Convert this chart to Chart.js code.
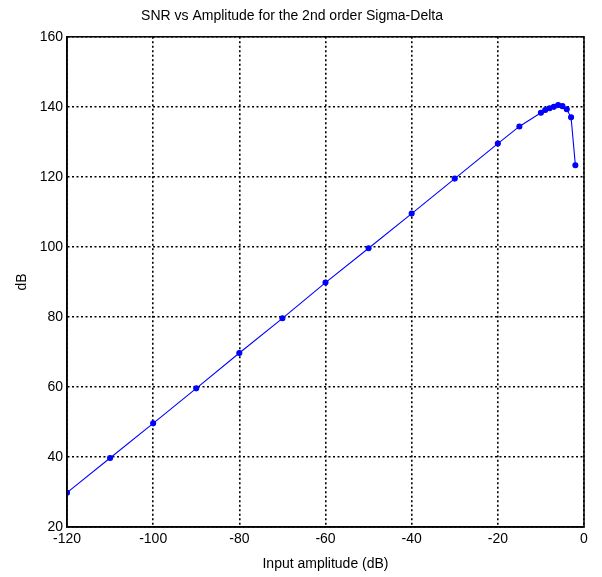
<!DOCTYPE html>
<html>
<head>
<meta charset="utf-8">
<script src="https://cdn.jsdelivr.net/npm/chart.js@4/dist/chart.umd.min.js"></script>
<style>
  html, body { margin: 0; padding: 0; background: #fff; }
  #wrap { width: 602px; height: 577px; }
</style>
</head>
<body>
<div id="wrap"><canvas id="snrChart"></canvas></div>
<script>
// Dados
const amplitudes = [-120, -110, -100, -90, -80, -70, -60, -50, -40, -30, -20, -15, -10, -9, -8, -7, -6, -5, -4, -3, -2];
const snrValues = [29.8, 39.7, 49.6, 59.6, 69.7, 79.6, 89.8, 99.6, 109.5, 119.5, 129.5, 134.4, 138.3, 139.1, 139.6, 140.0, 140.5, 140.2, 139.3, 137.0, 123.3];
const xTicks = [-120, -100, -80, -60, -40, -20, 0];
const yTicks = [20, 40, 60, 80, 100, 120, 140, 160];

const fonte = "'Liberation Sans', Arial, sans-serif";

// Moldura preta em volta da área do gráfico
const moldura = {
    id: 'moldura',
    afterDraw(chart) {
        const a = chart.chartArea;
        const ctx = chart.ctx;
        ctx.save();
        ctx.strokeStyle = '#000';
        ctx.lineWidth = 1.5;
        ctx.setLineDash([]);
        ctx.strokeRect(a.left, a.top, a.right - a.left, a.bottom - a.top);
        ctx.restore();
    }
};

const gradeConfig = {
    color: '#000',
    lineWidth: 1.6,
    drawTicks: false
};

// Grade pontilhada (no v4 o tracejado fica em border.dash)
const bordaConfig = { display: true, color: '#000', width: 1.5, dash: [2, 2.5] };

new Chart(document.getElementById('snrChart'), {
    type: 'scatter',
    data: {
        datasets: [{
            label: 'SNR',
            data: amplitudes.map((a, i) => ({ x: a, y: snrValues[i] })),
            showLine: true,
            borderColor: '#0000ff',
            backgroundColor: '#0000ff',
            borderWidth: 1.1,
            pointRadius: 2.5,
            pointHoverRadius: 2.5
        }]
    },
    options: {
        responsive: true,
        maintainAspectRatio: false,
        animation: false,
        layout: { padding: { left: 0, right: 18, top: 0, bottom: 0 } },
        plugins: {
            legend: { display: false },
            tooltip: { enabled: false },
            title: {
                display: true,
                text: 'SNR vs Amplitude for the 2nd order Sigma-Delta',
                color: '#000',
                font: { family: fonte, size: 14, weight: 'normal' },
                padding: { top: 8, bottom: 12 }
            }
        },
        scales: {
            x: {
                type: 'linear',
                min: -120,
                max: 0,
                afterBuildTicks: s => { s.ticks = xTicks.map(v => ({ value: v })); },
                afterFit: s => { s.height = 50; },
                grid: gradeConfig,
                border: bordaConfig,
                ticks: { color: '#000', font: { family: fonte, size: 14 }, padding: 4, maxRotation: 0 },
                title: {
                    display: true,
                    text: 'Input amplitude (dB)',
                    color: '#000',
                    font: { family: fonte, size: 14 },
                    padding: { top: 0, bottom: 4 }
                }
            },
            y: {
                type: 'linear',
                min: 20,
                max: 160,
                afterBuildTicks: s => { s.ticks = yTicks.map(v => ({ value: v })); },
                afterFit: s => { s.width = 67; },
                grid: gradeConfig,
                border: bordaConfig,
                ticks: { color: '#000', font: { family: fonte, size: 14 }, padding: 4 },
                title: {
                    display: true,
                    text: 'dB',
                    color: '#000',
                    font: { family: fonte, size: 14 },
                    padding: { top: 14, bottom: 0 }
                }
            }
        }
    },
    plugins: [moldura]
});
</script>
</body>
</html>
